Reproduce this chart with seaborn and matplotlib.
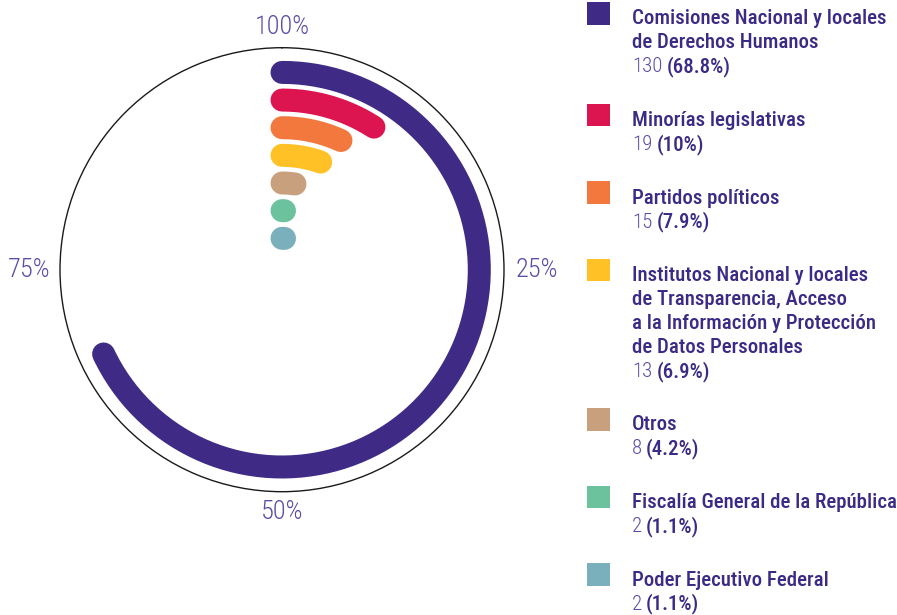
import numpy as np
import pandas as pd
import matplotlib
matplotlib.use("Agg")
import matplotlib.pyplot as plt
import matplotlib.transforms as mtransforms
from matplotlib.patches import Rectangle
from matplotlib import font_manager as fm
import seaborn as sns

# ---------------- data ----------------
categories = [
    "Comisiones Nacional y locales\nde Derechos Humanos",
    "Minorías legislativas",
    "Partidos políticos",
    "Institutos Nacional y locales\nde Transparencia, Acceso\na la Información y Protección\nde Datos Personales",
    "Otros",
    "Fiscalía General de la República",
    "Poder Ejecutivo Federal",
]
counts = [130, 19, 15, 13, 8, 2, 2]
pct_labels = ["68.8", "10", "7.9", "6.9", "4.2", "1.1", "1.1"]
colors = ["#3f2a86", "#dc1450", "#f2783e", "#ffc125", "#c9a07e", "#6cc29d", "#7aafbc"]
ring_ticks = [0, 25, 50, 75]
ring_tick_labels = ["100%", "25%", "50%", "75%"]

# ---------------- style ----------------
sns.set_theme(style="white")
names = {f.name for f in fm.fontManager.ttflist}
cond = next((n for n in ["Roboto Condensed", "Liberation Sans Narrow", "Open Sans Condensed",
                         "Noto Sans Condensed"] if n in names), None)
if cond is None:
    cond = "DejaVu Sans"
    stretch = "condensed"
else:
    stretch = "normal"
plt.rcParams["font.family"] = [cond, "DejaVu Sans"]

TXT = "#3b2a86"
LIGHT = "#5b4ca6"

W, H = 897, 615
fig = plt.figure(figsize=(W / 100, H / 100), dpi=100)
fig.patch.set_facecolor("white")

# pixel (from top-left) transform
pix = mtransforms.Affine2D().scale(1 / W, -1 / H).translate(0, 1) + fig.transFigure

# polar axes: centre (282, 269.7), radius 222 px
cx, cy, R = 282.0, 269.7, 222.0
ax = fig.add_axes([(cx - R) / W, (H - cy - R) / H, 2 * R / W, 2 * R / H], projection="polar")
ax.set_theta_zero_location("N")
ax.set_theta_direction(-1)
ax.set_ylim(0, R)
ax.grid(False)
ax.set_yticks([])
ax.set_xticks([])
ax.spines["polar"].set_linewidth(1.0)
ax.spines["polar"].set_color("#1a1a1a")
ax.set_facecolor("none")

total = sum(counts)
df = pd.DataFrame({"cat": categories, "count": counts, "pct": pct_labels, "color": colors})
df["share"] = df["count"] / total

r0, step = 197.3, 27.65
bar_px = 23
lw = bar_px * 72 / 100
for i, row in df.iterrows():
    r = r0 - i * step
    arc_len = max(row["share"] * 2 * np.pi * r - 10.0, 2.5)
    th_end = arc_len / r
    th = np.linspace(0, th_end, 200)
    sns.lineplot(x=th, y=np.full_like(th, r), ax=ax, color=row["color"], linewidth=lw,
                 solid_capstyle="round", sort=False, estimator=None, legend=False)
ax.set_xlabel("")
ax.set_ylabel("")

# ring percentage labels
for t, lab in zip(ring_ticks, ring_tick_labels):
    th = t / 100 * 2 * np.pi
    kw = dict(fontsize=19, color=LIGHT, fontweight="light", fontstretch=stretch, clip_on=False)
    if t in (0, 50):
        ax.text(th, 242.5, lab, ha="center", va="center", **kw)
    elif t == 25:
        ax.text(th, 234, lab, ha="left", va="center", **kw)
    else:
        ax.text(th, 232, lab, ha="right", va="center", **kw)

# ---------------- legend ----------------
renderer = fig.canvas.get_renderer()
sq_x, sq = 587, 22.5
tx = 632
line = 24.0
fs = 15
bottom = 24.5  # bottom of first square / first baseline
for i, row in df.iterrows():
    fig.patches.append(Rectangle((sq_x, bottom - sq), sq, sq, transform=pix,
                                 facecolor=row["color"], edgecolor="none"))
    lines = row["cat"].split("\n")
    for j, ln in enumerate(lines):
        fig.text(tx, bottom + j * line, ln, transform=pix, ha="left", va="baseline",
                 fontsize=fs, color=TXT, fontweight="medium", fontstretch=stretch)
    yb = bottom + len(lines) * line
    t1 = fig.text(tx, yb, f"{row['count']}", transform=pix, ha="left", va="baseline",
                  fontsize=fs, color=LIGHT, fontweight="light", fontstretch=stretch)
    ext = t1.get_window_extent(renderer=renderer)
    fig.text(ext.x1 + 4, yb, f"({row['pct']}%)", transform=pix, ha="left",
             va="baseline", fontsize=fs, color=TXT, fontweight="medium", fontstretch=stretch)
    bottom = yb + 53.5

fig.savefig("out.png", dpi=100, facecolor="white")
